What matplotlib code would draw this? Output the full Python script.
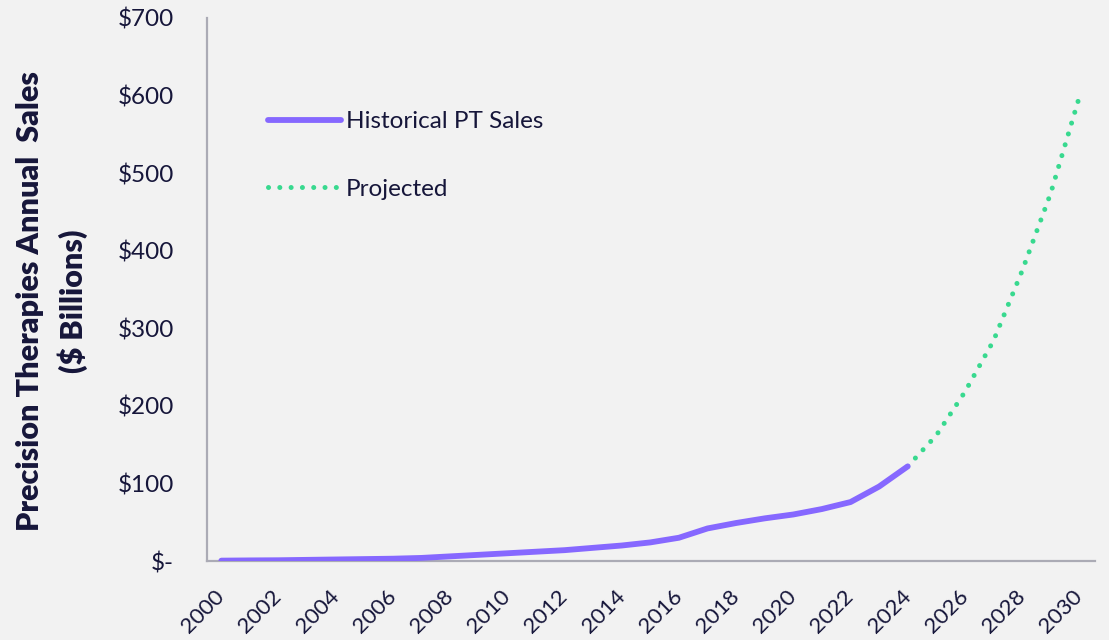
import matplotlib
matplotlib.use("Agg")
import matplotlib.pyplot as plt

# Annual sales, $ billions
hist_years = list(range(2000, 2025))
hist_sales = [0.5, 0.8, 1, 1.5, 2, 2.5, 3, 4, 6, 8, 10, 12, 14, 17, 20,
              24, 30, 42, 49, 55, 60, 67, 76, 96, 122]

proj_years = list(range(2024, 2031))
proj_sales = [122, 162, 218, 284, 374, 474, 598]

year_ticks = list(range(2000, 2031, 2))
y_ticks = [0, 100, 200, 300, 400, 500, 600, 700]
y_tick_labels = ["$-", "$100", "$200", "$300", "$400", "$500", "$600", "$700"]

BG = "#f2f2f2"
TEXT = "#16163a"
PURPLE = "#8668ff"
GREEN = "#38d98f"
SPINE = "#ababb5"

plt.rcParams["font.family"] = ["Lato", "DejaVu Sans"]

fig = plt.figure(figsize=(11.09, 6.4), dpi=100, facecolor=BG)
ax = fig.add_axes([0.1867, 0.1234, 0.8007, 0.8485], facecolor=BG)

ax.plot(hist_years, hist_sales, color=PURPLE, linewidth=4.2,
        solid_capstyle="round", label="Historical PT Sales", zorder=3)
ax.plot(proj_years, proj_sales, color=GREEN, linewidth=3.6,
        linestyle=(0, (0.01, 2.25)), dash_capstyle="round",
        label="Projected", zorder=2)

ax.set_xlim(1999.5, 2030.55)
ax.set_ylim(0, 700)
ax.set_xticks(year_ticks)
ax.set_xticklabels([str(y) for y in year_ticks], rotation=45, ha="right",
                   va="center", rotation_mode="anchor")
ax.set_yticks(y_ticks)
ax.set_yticklabels(y_tick_labels)
ax.tick_params(axis="both", length=0, colors=TEXT)
ax.tick_params(axis="y", pad=24, labelsize=17.5)
ax.tick_params(axis="x", pad=23, labelsize=16)

for side in ("top", "right"):
    ax.spines[side].set_visible(False)
for side in ("left", "bottom"):
    ax.spines[side].set_color(SPINE)
    ax.spines[side].set_linewidth(1.6)

fig.text(0.047, 0.53, "Precision Therapies Annual  Sales\n($ Billions)",
         rotation=90, ha="center", va="center", fontsize=22,
         fontweight="heavy", color=TEXT, linespacing=1.55)

leg = ax.legend(loc="upper left", bbox_to_anchor=(0.242, 0.826),
                bbox_transform=fig.transFigure, frameon=False,
                fontsize=17.5, handlelength=3.0, handletextpad=0.2,
                labelspacing=1.9, borderpad=0, borderaxespad=0)
for t in leg.get_texts():
    t.set_color(TEXT)

fig.savefig("out.png", dpi=100, facecolor=BG)
